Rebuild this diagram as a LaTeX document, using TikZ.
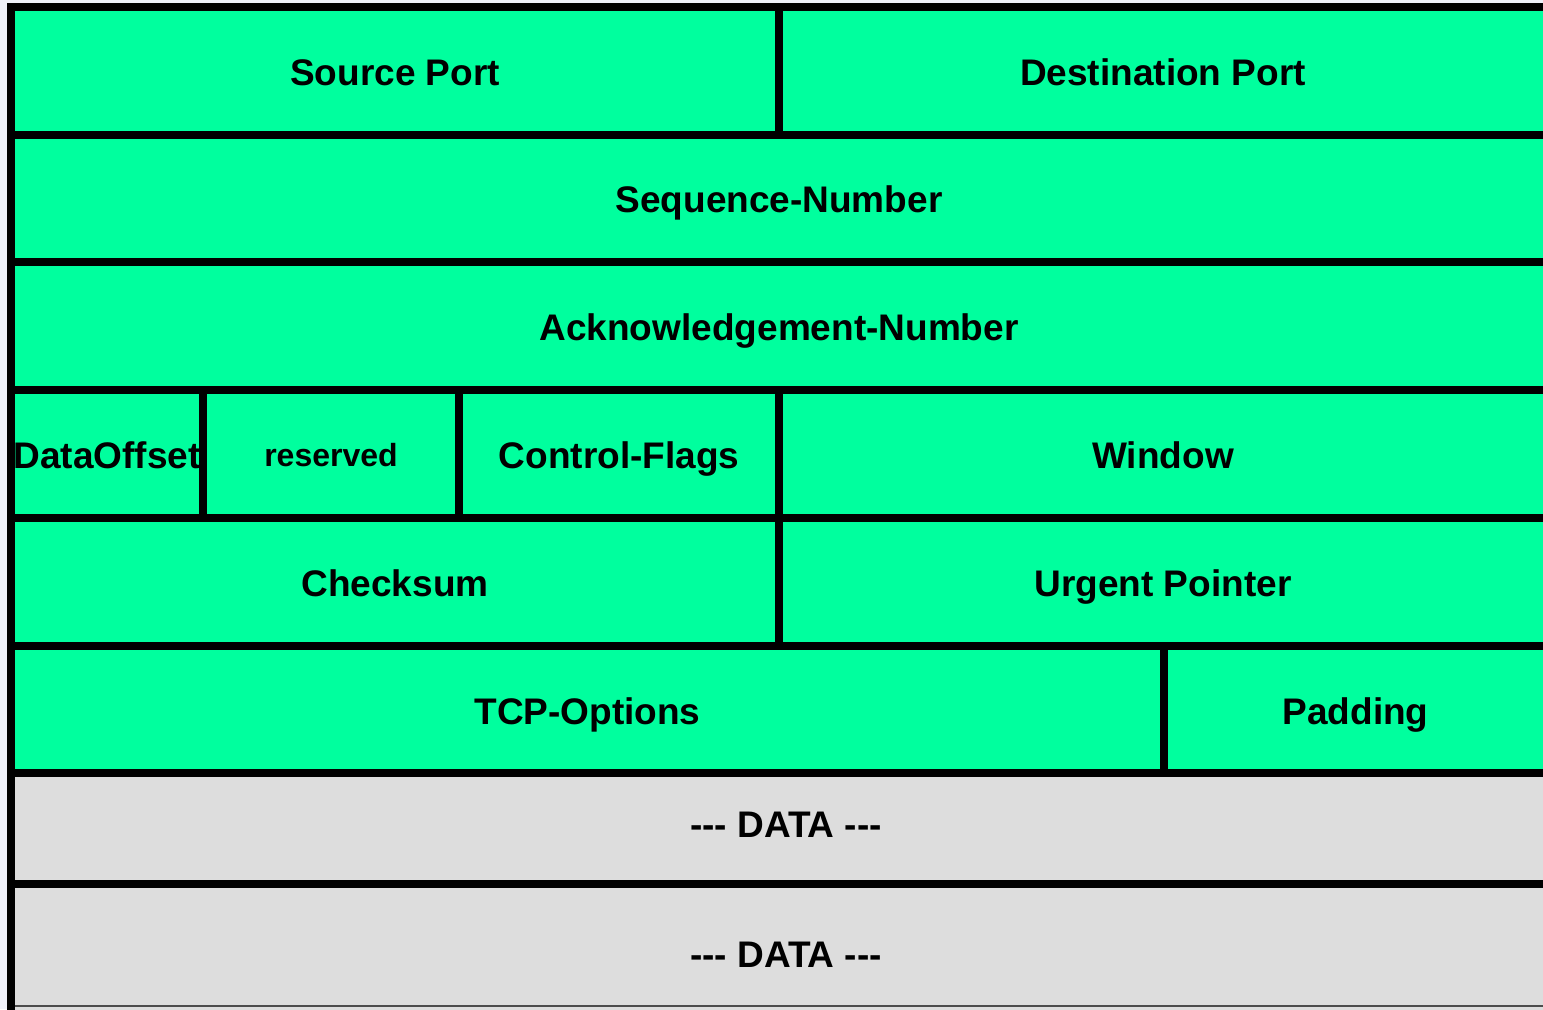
\documentclass[tikz,border=0pt]{standalone}
\usepackage{fontspec}
\newfontfamily\labfont{Liberation Sans}
\definecolor{hdrgreen}{HTML}{00FF9E}
\definecolor{datagray}{HTML}{DDDDDD}
\definecolor{paper}{HTML}{EFF1F9}
\begin{document}
\begin{tikzpicture}[x=0.5pt,y=-0.5pt,
  cell/.style={draw=black,line width=4pt,fill=hdrgreen},
  datacell/.style={draw=black,line width=4pt,fill=datagray},
  lab/.style={font=\labfont\bfseries\fontsize{18.5}{22}\selectfont,inner sep=0pt,
    text height=15.3pt,text depth=0.7pt},
  smalllab/.style={font=\labfont\bfseries\fontsize{16}{19}\selectfont,inner sep=0pt,
    text height=13.5pt,text depth=0.6pt}]
\useasboundingbox (0,0) rectangle (1543,1009);
\clip (0,0) rectangle (1543,1009);
\fill[paper] (0,0) rectangle (1543,1009);
% TCP header, one row per 32-bit word
\draw[cell] (11,7) rectangle (779,134.5) node[pos=.5,lab] (sport) {Source Port};
\draw[cell] (779,7) rectangle (1547,134.5) node[pos=.5,lab] (dport) {Destination Port};
\draw[cell] (11,134.5) rectangle (1547,262) node[pos=.5,lab] (seq) {Sequence-Number};
\draw[cell] (11,262) rectangle (1547,390) node[pos=.5,lab] (ack) {Acknowledgement-Number};
\draw[cell] (11,390) rectangle (203,518) node[pos=.5,lab] (doff) {DataOffset};
\draw[cell] (203,390) rectangle (459,518) node[pos=.5,smalllab] (resv) {reserved};
\draw[cell] (459,390) rectangle (779,518) node[pos=.5,lab] (flags) {Control-Flags};
\draw[cell] (779,390) rectangle (1547,518) node[pos=.5,lab] (win) {Window};
\draw[cell] (11,518) rectangle (779,646) node[pos=.5,lab] (csum) {Checksum};
\draw[cell] (779,518) rectangle (1547,646) node[pos=.5,lab] (urg) {Urgent Pointer};
\draw[cell] (11,646) rectangle (1164,773) node[pos=.5,lab] (opts) {TCP-Options};
\draw[cell] (1164,646) rectangle (1547,773) node[pos=.5,lab] (pad) {Padding};
% payload
\draw[datacell] (11,773) rectangle (1547,884) node[pos=.5,lab,xshift=3.5pt,yshift=2.75pt] (data1) {-\kern0pt-\kern0pt- DATA -\kern0pt-\kern0pt-};
\draw[datacell] (11,884) rectangle (1547,1022) node[pos=.5,lab,xshift=3.5pt] (data2) {-\kern0pt-\kern0pt- DATA -\kern0pt-\kern0pt-};
\draw[gray!60!black,line width=0.6pt] (15,1006) -- (1543,1006);
\end{tikzpicture}
\end{document}
